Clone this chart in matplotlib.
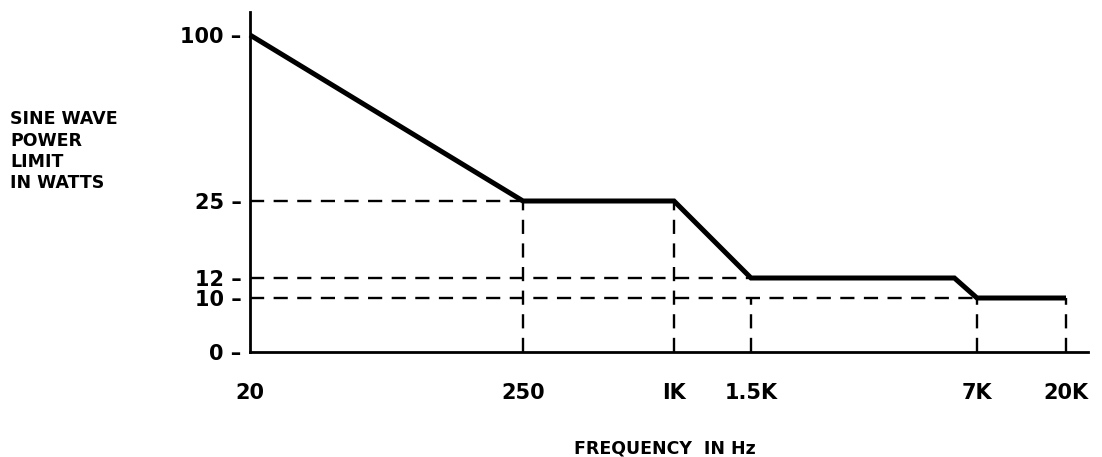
#!/usr/bin/env python3

import numpy as np
from matplotlib import pyplot as plt

# power limit curve (frequency in Hz, watts)
freq = [20, 250, 1000, 1500, 6000, 7000, 20000]
watts = [100, 25, 25, 12, 12, 10, 10]

x_ticks = [20, 250, 1000, 1500, 7000, 20000]
x_labels = ['20', '250', 'IK', '1.5K', '7K', '20K']
y_ticks = [0, 10, 12, 25, 100]
y_labels = ['0', '10', '12', '25', '100']

# dashed guide lines
h_guides = [(25, 250), (12, 1500), (10, 7000)]       # (level, end freq)
v_guides = [(250, 25), (1000, 25), (1500, 10), (7000, 10), (20000, 10)]  # (freq, top level)

# the drawing is not on a regular scale, so map values to axis
# distance piecewise (anchors taken from the original figure)
x_anchor_f = np.log10([20, 250, 1000, 1500, 7000, 20000, 30000])
x_anchor_p = [0, 273, 424, 501, 727, 816, 838]
y_anchor_v = [0, 10, 12, 25, 100, 110]
y_anchor_p = [0, 54, 74, 151, 317, 340]


def x_fwd(f):
    f = np.clip(np.asarray(f, dtype=float), 1e-9, None)
    return np.interp(np.log10(f), x_anchor_f, x_anchor_p)


def x_inv(p):
    return 10 ** np.interp(p, x_anchor_p, x_anchor_f)


def y_fwd(v):
    return np.interp(v, y_anchor_v, y_anchor_p)


def y_inv(p):
    return np.interp(p, y_anchor_p, y_anchor_v)


plt.rcParams['font.family'] = ['DejaVu Sans']
plt.rcParams['font.weight'] = 'bold'

W, H = 1102, 457
fig = plt.figure(figsize=(W / 100, H / 100), dpi=100)
ax = fig.add_axes([250 / W, 105 / H, 838 / W, 340 / H])
ax.set_xscale('function', functions=(x_fwd, x_inv))
ax.set_yscale('function', functions=(y_fwd, y_inv))
ax.set_xlim(20, 30000)
ax.set_ylim(0, 110)

dash = dict(color='black', lw=1.7, dashes=(6, 4), clip_on=False)
for level, f_end in h_guides:
    ax.plot([20, f_end], [level, level], **dash)
for f, top in v_guides:
    ax.plot([f, f], [0, top], **dash)

ax.plot(freq, watts, color='black', lw=3.6, solid_joinstyle='miter',
        solid_capstyle='butt', clip_on=False, zorder=5)

for side in ['top', 'right']:
    ax.spines[side].set_visible(False)
for side in ['left', 'bottom']:
    ax.spines[side].set_linewidth(2)

ax.set_xticks(x_ticks)
ax.set_xticklabels(x_labels)
ax.set_yticks(y_ticks)
ax.set_yticklabels([lab + ' \u2013' for lab in y_labels])
ax.minorticks_off()
ax.tick_params(axis='x', length=0, pad=22, labelsize=15)
ax.tick_params(axis='y', length=0, pad=6, labelsize=15)

fig.text(10 / W, 1 - 110 / H, 'SINE WAVE\nPOWER\nLIMIT\nIN WATTS',
         fontsize=12.5, fontweight='bold', va='top', ha='left', linespacing=1.25)
fig.text(665 / W, 1 - 448 / H, 'FREQUENCY  IN Hz', fontsize=12.5,
         fontweight='bold', va='center', ha='center')

plt.savefig('out.png', dpi=100)
